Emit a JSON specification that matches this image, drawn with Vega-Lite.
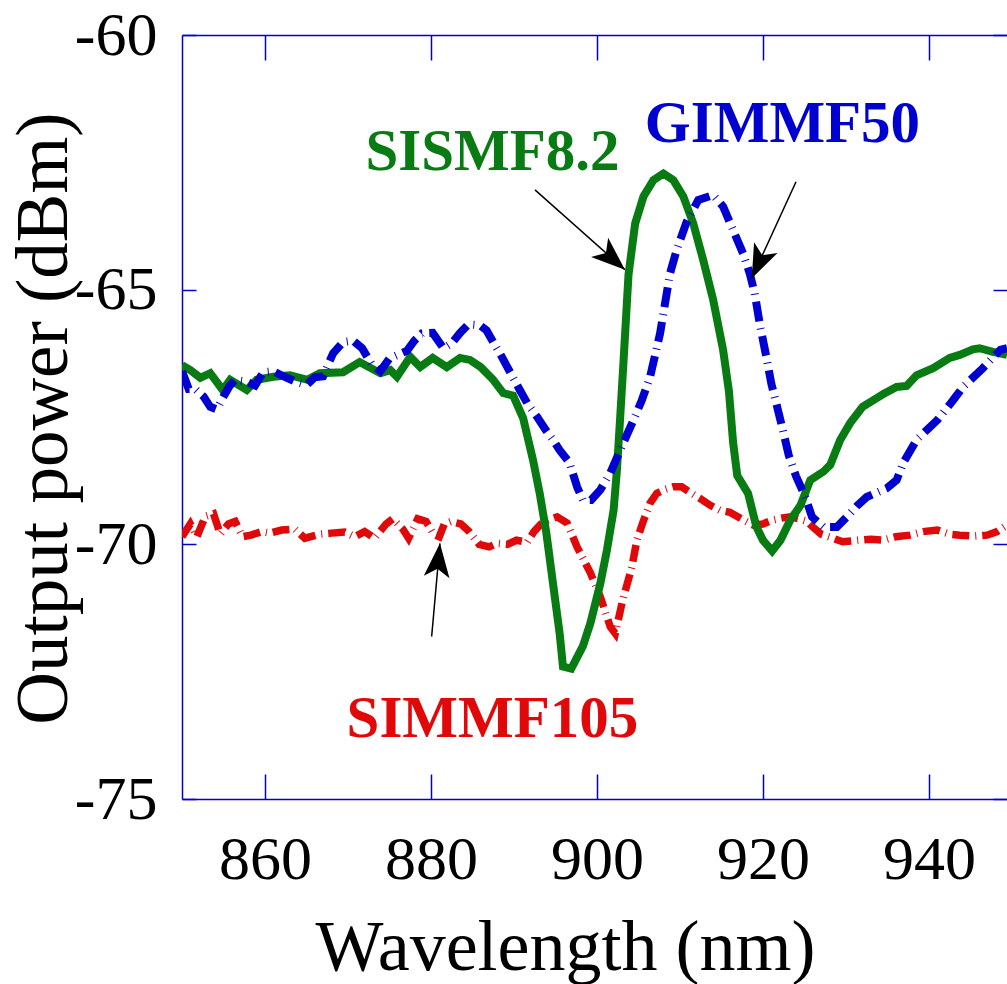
{
  "$schema": "https://vega.github.io/schema/vega-lite/v6.json",
  "width": 825,
  "height": 764,
  "autosize": {"type": "none"},
  "padding": {"left": 182, "top": 35, "right": 0, "bottom": 185},
  "background": "white",
  "config": {
    "view": {"stroke": null},
    "font": "Liberation Serif",
    "axis": {
      "grid": false,
      "domainColor": "#0000cc",
      "domainWidth": 1.5,
      "tickColor": "#0000cc",
      "tickWidth": 1.5,
      "labelFont": "Liberation Serif",
      "titleFont": "Liberation Serif",
      "labelColor": "black",
      "titleColor": "black",
      "titleFontWeight": "normal",
      "labelFontSize": 62,
      "titleFontSize": 72,
      "labelFlush": false,
      "labelOverlap": false
    }
  },
  "datasets": {
    "sismf": [
      {"wavelength": 850.0, "power": -66.48}, {"wavelength": 851.0, "power": -66.58}, {"wavelength": 852.2, "power": -66.73},
      {"wavelength": 853.4, "power": -66.64}, {"wavelength": 854.9, "power": -66.97}, {"wavelength": 855.8, "power": -66.77},
      {"wavelength": 857.8, "power": -66.97}, {"wavelength": 859.0, "power": -66.77}, {"wavelength": 861.0, "power": -66.71},
      {"wavelength": 863.0, "power": -66.68}, {"wavelength": 865.1, "power": -66.77}, {"wavelength": 866.6, "power": -66.64},
      {"wavelength": 869.4, "power": -66.62}, {"wavelength": 871.4, "power": -66.42}, {"wavelength": 873.9, "power": -66.64},
      {"wavelength": 875.1, "power": -66.58}, {"wavelength": 875.9, "power": -66.71}, {"wavelength": 877.5, "power": -66.32},
      {"wavelength": 878.7, "power": -66.52}, {"wavelength": 880.2, "power": -66.34}, {"wavelength": 881.9, "power": -66.52},
      {"wavelength": 883.5, "power": -66.34}, {"wavelength": 884.7, "power": -66.38}, {"wavelength": 886.0, "power": -66.52},
      {"wavelength": 887.5, "power": -66.77}, {"wavelength": 888.7, "power": -67.03}, {"wavelength": 889.9, "power": -67.08},
      {"wavelength": 891.1, "power": -67.52}, {"wavelength": 892.3, "power": -68.35}, {"wavelength": 893.1, "power": -69.0},
      {"wavelength": 893.9, "power": -69.78}, {"wavelength": 894.7, "power": -70.77}, {"wavelength": 895.5, "power": -71.75},
      {"wavelength": 895.9, "power": -72.4}, {"wavelength": 896.9, "power": -72.44}, {"wavelength": 898.3, "power": -72.0},
      {"wavelength": 899.2, "power": -71.55}, {"wavelength": 900.4, "power": -70.77}, {"wavelength": 901.2, "power": -70.11},
      {"wavelength": 902.0, "power": -69.33}, {"wavelength": 902.4, "power": -68.55}, {"wavelength": 902.8, "power": -67.49},
      {"wavelength": 903.2, "power": -66.4}, {"wavelength": 903.8, "power": -64.7}, {"wavelength": 904.6, "power": -63.7},
      {"wavelength": 905.6, "power": -63.17}, {"wavelength": 906.8, "power": -62.85}, {"wavelength": 908.0, "power": -62.72},
      {"wavelength": 909.2, "power": -62.85}, {"wavelength": 910.4, "power": -63.17}, {"wavelength": 911.6, "power": -63.7},
      {"wavelength": 912.8, "power": -64.42}, {"wavelength": 914.0, "power": -65.2}, {"wavelength": 915.2, "power": -66.19},
      {"wavelength": 915.9, "power": -67.0}, {"wavelength": 916.4, "power": -68.0}, {"wavelength": 916.9, "power": -68.65},
      {"wavelength": 918.2, "power": -69.0}, {"wavelength": 919.2, "power": -69.65}, {"wavelength": 920.0, "power": -69.92},
      {"wavelength": 921.1, "power": -70.13}, {"wavelength": 922.1, "power": -69.92}, {"wavelength": 923.3, "power": -69.52},
      {"wavelength": 924.5, "power": -69.24}, {"wavelength": 925.7, "power": -68.74}, {"wavelength": 927.3, "power": -68.57},
      {"wavelength": 928.1, "power": -68.44}, {"wavelength": 929.3, "power": -67.95}, {"wavelength": 930.5, "power": -67.62},
      {"wavelength": 932.0, "power": -67.3}, {"wavelength": 933.7, "power": -67.13}, {"wavelength": 934.5, "power": -67.05},
      {"wavelength": 936.1, "power": -66.91}, {"wavelength": 937.3, "power": -66.89}, {"wavelength": 938.5, "power": -66.68},
      {"wavelength": 940.5, "power": -66.54}, {"wavelength": 942.5, "power": -66.34}, {"wavelength": 943.7, "power": -66.28},
      {"wavelength": 945.3, "power": -66.17}, {"wavelength": 946.1, "power": -66.15}, {"wavelength": 947.7, "power": -66.22},
      {"wavelength": 949.4, "power": -66.28}
    ],
    "gimmf": [
      {"wavelength": 850.0, "power": -66.6}, {"wavelength": 850.8, "power": -66.95}, {"wavelength": 851.6, "power": -66.95},
      {"wavelength": 852.6, "power": -67.1}, {"wavelength": 853.4, "power": -67.3}, {"wavelength": 854.2, "power": -67.35},
      {"wavelength": 855.0, "power": -67.1}, {"wavelength": 855.7, "power": -66.9}, {"wavelength": 856.4, "power": -66.77},
      {"wavelength": 857.6, "power": -66.8}, {"wavelength": 858.8, "power": -66.88}, {"wavelength": 859.8, "power": -66.62},
      {"wavelength": 861.0, "power": -66.6}, {"wavelength": 862.2, "power": -66.7}, {"wavelength": 863.6, "power": -66.8},
      {"wavelength": 865.0, "power": -66.87}, {"wavelength": 866.0, "power": -66.72}, {"wavelength": 867.0, "power": -66.7},
      {"wavelength": 868.2, "power": -66.25}, {"wavelength": 869.4, "power": -66.03}, {"wavelength": 870.6, "power": -66.0},
      {"wavelength": 871.7, "power": -66.15}, {"wavelength": 872.8, "power": -66.45}, {"wavelength": 873.9, "power": -66.6},
      {"wavelength": 875.0, "power": -66.35}, {"wavelength": 876.0, "power": -66.28}, {"wavelength": 877.1, "power": -66.2},
      {"wavelength": 878.0, "power": -66.0}, {"wavelength": 878.9, "power": -65.86}, {"wavelength": 880.2, "power": -65.85},
      {"wavelength": 881.5, "power": -66.15}, {"wavelength": 882.5, "power": -66.05}, {"wavelength": 883.5, "power": -65.85},
      {"wavelength": 884.5, "power": -65.68}, {"wavelength": 885.9, "power": -65.7}, {"wavelength": 886.7, "power": -65.8},
      {"wavelength": 887.5, "power": -66.03}, {"wavelength": 888.3, "power": -66.25}, {"wavelength": 889.2, "power": -66.52},
      {"wavelength": 890.7, "power": -66.97}, {"wavelength": 891.6, "power": -67.23}, {"wavelength": 892.8, "power": -67.5},
      {"wavelength": 893.8, "power": -67.75}, {"wavelength": 894.7, "power": -67.95}, {"wavelength": 895.5, "power": -68.15},
      {"wavelength": 896.7, "power": -68.4}, {"wavelength": 897.6, "power": -68.87}, {"wavelength": 898.3, "power": -69.13},
      {"wavelength": 899.3, "power": -69.13}, {"wavelength": 900.4, "power": -68.93}, {"wavelength": 901.6, "power": -68.6},
      {"wavelength": 902.8, "power": -68.15}, {"wavelength": 903.6, "power": -67.85}, {"wavelength": 904.4, "power": -67.56},
      {"wavelength": 905.4, "power": -67.17}, {"wavelength": 906.4, "power": -66.71}, {"wavelength": 907.6, "power": -65.86},
      {"wavelength": 908.2, "power": -65.27}, {"wavelength": 908.8, "power": -64.68}, {"wavelength": 909.6, "power": -64.22},
      {"wavelength": 910.8, "power": -63.67}, {"wavelength": 912.2, "power": -63.24}, {"wavelength": 914.0, "power": -63.14},
      {"wavelength": 915.2, "power": -63.37}, {"wavelength": 916.4, "power": -63.83}, {"wavelength": 917.6, "power": -64.29},
      {"wavelength": 918.4, "power": -64.68}, {"wavelength": 919.0, "power": -65.07}, {"wavelength": 919.6, "power": -65.66},
      {"wavelength": 920.4, "power": -66.32}, {"wavelength": 921.0, "power": -66.84}, {"wavelength": 921.6, "power": -67.23},
      {"wavelength": 922.4, "power": -67.76}, {"wavelength": 923.1, "power": -68.25}, {"wavelength": 924.0, "power": -68.67},
      {"wavelength": 925.1, "power": -69.07}, {"wavelength": 925.9, "power": -69.46}, {"wavelength": 927.3, "power": -69.66},
      {"wavelength": 928.9, "power": -69.66}, {"wavelength": 930.1, "power": -69.46}, {"wavelength": 931.3, "power": -69.25},
      {"wavelength": 932.5, "power": -69.07}, {"wavelength": 934.9, "power": -68.9}, {"wavelength": 936.1, "power": -68.74},
      {"wavelength": 936.9, "power": -68.4}, {"wavelength": 938.5, "power": -67.95}, {"wavelength": 941.0, "power": -67.56},
      {"wavelength": 942.9, "power": -67.17}, {"wavelength": 944.1, "power": -66.91}, {"wavelength": 946.5, "power": -66.54},
      {"wavelength": 948.6, "power": -66.18}, {"wavelength": 949.4, "power": -66.15}
    ],
    "simmf": [
      {"wavelength": 850.0, "power": -69.85}, {"wavelength": 851.0, "power": -69.6}, {"wavelength": 851.8, "power": -69.85},
      {"wavelength": 852.8, "power": -69.45}, {"wavelength": 853.8, "power": -69.4}, {"wavelength": 854.6, "power": -69.8},
      {"wavelength": 855.6, "power": -69.6}, {"wavelength": 856.4, "power": -69.55}, {"wavelength": 857.3, "power": -69.85},
      {"wavelength": 858.3, "power": -69.82}, {"wavelength": 859.6, "power": -69.75}, {"wavelength": 860.6, "power": -69.78},
      {"wavelength": 862.0, "power": -69.72}, {"wavelength": 863.6, "power": -69.7}, {"wavelength": 864.8, "power": -69.88},
      {"wavelength": 866.6, "power": -69.8}, {"wavelength": 868.0, "power": -69.78}, {"wavelength": 869.6, "power": -69.76},
      {"wavelength": 870.8, "power": -69.85}, {"wavelength": 872.0, "power": -69.75}, {"wavelength": 873.2, "power": -69.88},
      {"wavelength": 874.6, "power": -69.6}, {"wavelength": 875.4, "power": -69.5}, {"wavelength": 876.6, "power": -69.7},
      {"wavelength": 877.3, "power": -69.88}, {"wavelength": 878.4, "power": -69.5}, {"wavelength": 879.4, "power": -69.55},
      {"wavelength": 880.3, "power": -69.8}, {"wavelength": 881.0, "power": -69.85}, {"wavelength": 881.6, "power": -69.6},
      {"wavelength": 882.4, "power": -69.55}, {"wavelength": 883.6, "power": -69.6}, {"wavelength": 884.6, "power": -69.75},
      {"wavelength": 885.8, "power": -70.0}, {"wavelength": 887.0, "power": -70.05}, {"wavelength": 888.0, "power": -69.98},
      {"wavelength": 889.2, "power": -70.0}, {"wavelength": 890.3, "power": -69.92}, {"wavelength": 891.6, "power": -69.96},
      {"wavelength": 892.4, "power": -69.75}, {"wavelength": 893.5, "power": -69.56}, {"wavelength": 895.2, "power": -69.46},
      {"wavelength": 896.4, "power": -69.58}, {"wavelength": 897.6, "power": -70.05}, {"wavelength": 899.2, "power": -70.56},
      {"wavelength": 900.4, "power": -71.03}, {"wavelength": 901.6, "power": -71.62}, {"wavelength": 902.2, "power": -71.75},
      {"wavelength": 903.1, "power": -71.09}, {"wavelength": 904.2, "power": -70.45}, {"wavelength": 904.8, "power": -69.92},
      {"wavelength": 905.5, "power": -69.58}, {"wavelength": 906.4, "power": -69.19}, {"wavelength": 907.2, "power": -69.0},
      {"wavelength": 908.2, "power": -68.92}, {"wavelength": 909.2, "power": -68.87}, {"wavelength": 910.2, "power": -68.87},
      {"wavelength": 911.4, "power": -69.0}, {"wavelength": 912.4, "power": -69.1}, {"wavelength": 913.6, "power": -69.23},
      {"wavelength": 914.8, "power": -69.33}, {"wavelength": 916.0, "power": -69.37}, {"wavelength": 917.4, "power": -69.5},
      {"wavelength": 918.8, "power": -69.62}, {"wavelength": 920.0, "power": -69.6}, {"wavelength": 921.2, "power": -69.52},
      {"wavelength": 922.4, "power": -69.48}, {"wavelength": 923.3, "power": -69.46}, {"wavelength": 924.3, "power": -69.5},
      {"wavelength": 925.3, "power": -69.55}, {"wavelength": 926.0, "power": -69.66}, {"wavelength": 927.0, "power": -69.8},
      {"wavelength": 928.1, "power": -69.86}, {"wavelength": 929.6, "power": -69.95}, {"wavelength": 931.4, "power": -69.92},
      {"wavelength": 933.0, "power": -69.9}, {"wavelength": 934.5, "power": -69.92}, {"wavelength": 936.0, "power": -69.85},
      {"wavelength": 937.7, "power": -69.82}, {"wavelength": 939.3, "power": -69.75}, {"wavelength": 941.0, "power": -69.72},
      {"wavelength": 942.5, "power": -69.8}, {"wavelength": 943.7, "power": -69.82}, {"wavelength": 945.4, "power": -69.84},
      {"wavelength": 947.0, "power": -69.82}, {"wavelength": 948.2, "power": -69.75}, {"wavelength": 949.4, "power": -69.62}
    ],
    "labels": [
      {"label": "SISMF8.2", "wavelength": 887.4, "power": -62.65},
      {"label": "GIMMF50", "wavelength": 922.35, "power": -62.1},
      {"label": "SIMMF105", "wavelength": 887.4, "power": -73.78}
    ],
    "arrows": [
      {"label": "SISMF8.2", "x1": 892.53, "y1": -63.04, "x2": 903.37, "y2": -64.61},
      {"label": "GIMMF50", "x1": 923.98, "y1": -62.88, "x2": 918.64, "y2": -64.78},
      {"label": "SIMMF105", "x1": 880.08, "y1": -71.81, "x2": 881.08, "y2": -69.98}
    ]
  },
  "resolve": {"axis": {"x": "independent", "y": "independent"}},
  "layer": [
    {
      "data": {"name": "simmf"},
      "mark": {"type": "line", "color": "#e00808", "strokeWidth": 7.5, "strokeDash": [17, 6, 1, 6], "clip": true},
      "encoding": {
        "x": {
          "field": "wavelength", "type": "quantitative",
          "scale": {"domain": [850, 949.4], "nice": false, "zero": false},
          "axis": {
            "orient": "bottom", "values": [860, 880, 900, 920, 940],
            "tickSize": -25, "labelPadding": 104, "labelBaseline": "alphabetic",
            "title": "Wavelength (nm)", "titleX": 383, "titleY": 170,
            "titleBaseline": "alphabetic", "titleAlign": "center", "titleAnchor": null
          }
        },
        "y": {
          "field": "power", "type": "quantitative",
          "scale": {"domain": [-75, -60], "nice": false, "zero": false},
          "axis": {
            "orient": "left", "values": [-60, -65, -70, -75],
            "labelExpr": "'' + datum.value",
            "tickSize": -14, "labelPadding": 39,
            "title": "Output power (dBm)", "titleFontSize": 73, "titleX": -116, "titleY": 383,
            "titleBaseline": "alphabetic", "titleAlign": "center", "titleAngle": -90
          }
        }
      }
    },
    {
      "data": {"name": "sismf"},
      "mark": {"type": "line", "color": "#087c12", "strokeWidth": 8, "clip": true},
      "encoding": {
        "x": {
          "field": "wavelength", "type": "quantitative",
          "axis": {"orient": "top", "values": [860, 880, 900, 920, 940], "tickSize": -25, "labels": false, "title": null}
        },
        "y": {
          "field": "power", "type": "quantitative",
          "axis": {"orient": "right", "values": [-60, -65, -70, -75], "tickSize": -14, "labels": false, "domain": false, "title": null}
        }
      }
    },
    {
      "data": {"name": "gimmf"},
      "mark": {"type": "line", "color": "#0000d0", "strokeWidth": 8, "strokeDash": [20, 7, 1, 7], "clip": true},
      "encoding": {
        "x": {"field": "wavelength", "type": "quantitative", "axis": null},
        "y": {"field": "power", "type": "quantitative", "axis": null}
      }
    },
    {
      "data": {"name": "arrows"},
      "mark": {"type": "rule", "color": "black", "strokeWidth": 1.5},
      "encoding": {
        "x": {"field": "x1", "type": "quantitative", "axis": null},
        "y": {"field": "y1", "type": "quantitative", "axis": null},
        "x2": {"field": "x2"},
        "y2": {"field": "y2"}
      }
    },
    {
      "data": {"name": "arrows"},
      "transform": [{"filter": "datum.label == 'SISMF8.2'"}],
      "mark": {"type": "point", "shape": "M0,0L-0.38,1L0,0.75L0.38,1Z", "filled": true, "color": "black", "opacity": 1, "size": 4600, "angle": 131.6},
      "encoding": {
        "x": {"field": "x2", "type": "quantitative", "axis": null},
        "y": {"field": "y2", "type": "quantitative", "axis": null}
      }
    },
    {
      "data": {"name": "arrows"},
      "transform": [{"filter": "datum.label == 'GIMMF50'"}],
      "mark": {"type": "point", "shape": "M0,0L-0.38,1L0,0.75L0.38,1Z", "filled": true, "color": "black", "opacity": 1, "size": 4600, "angle": 204.6},
      "encoding": {
        "x": {"field": "x2", "type": "quantitative", "axis": null},
        "y": {"field": "y2", "type": "quantitative", "axis": null}
      }
    },
    {
      "data": {"name": "arrows"},
      "transform": [{"filter": "datum.label == 'SIMMF105'"}],
      "mark": {"type": "point", "shape": "M0,0L-0.38,1L0,0.75L0.38,1Z", "filled": true, "color": "black", "opacity": 1, "size": 4600, "angle": 5.6},
      "encoding": {
        "x": {"field": "x2", "type": "quantitative", "axis": null},
        "y": {"field": "y2", "type": "quantitative", "axis": null}
      }
    },
    {
      "data": {"name": "labels"},
      "mark": {"type": "text", "font": "Liberation Serif", "fontWeight": "bold", "fontSize": 59, "align": "center", "baseline": "alphabetic"},
      "encoding": {
        "x": {"field": "wavelength", "type": "quantitative", "axis": null},
        "y": {"field": "power", "type": "quantitative", "axis": null},
        "text": {"field": "label"},
        "color": {
          "field": "label", "type": "nominal", "legend": null,
          "scale": {"domain": ["SISMF8.2", "GIMMF50", "SIMMF105"], "range": ["#087c12", "#0000d0", "#e00808"]}
        }
      }
    }
  ]
}
